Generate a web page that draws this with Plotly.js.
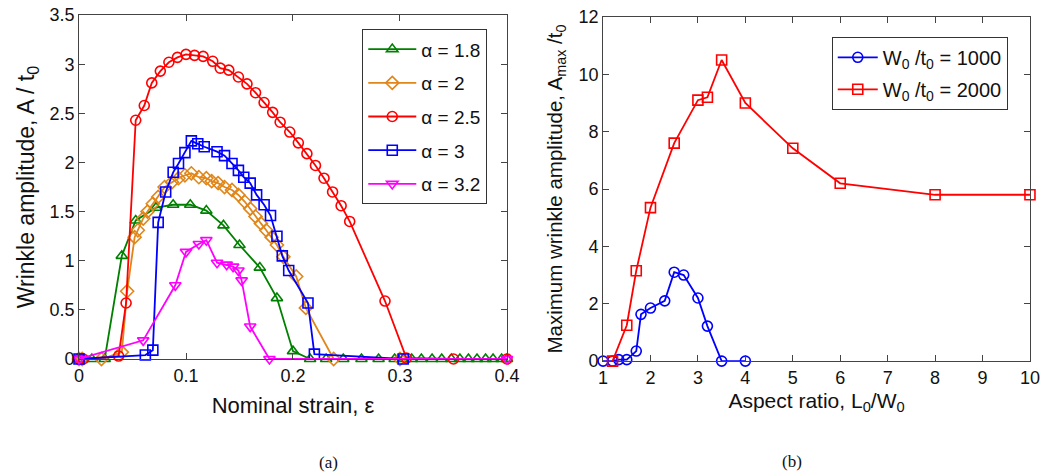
<!DOCTYPE html>
<html>
<head>
<meta charset="utf-8">
<script src="https://cdn.plot.ly/plotly-3.0.1.min.js"></script>
<style>
html,body{margin:0;padding:0;background:#fff;}
#chart{width:1041px;height:472px;}
</style>
</head>
<body>
<div id="chart"></div>
<script>
// ---- Panel (a): wrinkle amplitude vs nominal strain ----
const a18_x = [0, 0.004, 0.012, 0.024, 0.040, 0.053, 0.072, 0.088, 0.104, 0.119, 0.135, 0.150, 0.169, 0.185, 0.200, 0.216, 0.231, 0.247, 0.264, 0.280, 0.295, 0.303, 0.311, 0.320, 0.330, 0.339, 0.348, 0.356, 0.364, 0.372, 0.380, 0.387, 0.395, 0.400];
const a18_y = [0, 0, 0, 0, 1.05, 1.41, 1.54, 1.57, 1.57, 1.51, 1.36, 1.16, 0.93, 0.62, 0.08, 0, 0, 0, 0, 0, 0, 0, 0, 0, 0, 0, 0, 0, 0, 0, 0, 0, 0, 0];

const a20_x = [0, 0.003, 0.021, 0.040, 0.045, 0.052, 0.055, 0.060, 0.064, 0.069, 0.074, 0.080, 0.087, 0.093, 0.099, 0.105, 0.112, 0.119, 0.124, 0.130, 0.136, 0.143, 0.149, 0.155, 0.160, 0.165, 0.170, 0.175, 0.180, 0.185, 0.191, 0.203, 0.212, 0.238, 0.300];
const a20_y = [0, 0, 0, 0.07, 0.69, 1.24, 1.31, 1.43, 1.50, 1.58, 1.65, 1.75, 1.80, 1.84, 1.87, 1.89, 1.85, 1.84, 1.81, 1.79, 1.75, 1.72, 1.67, 1.60, 1.53, 1.45, 1.38, 1.31, 1.24, 1.16, 1.04, 0.84, 0.52, 0, 0];

const a25_x = [0, 0.004, 0.037, 0.044, 0.053, 0.061, 0.068, 0.076, 0.084, 0.092, 0.100, 0.108, 0.116, 0.125, 0.132, 0.140, 0.149, 0.157, 0.165, 0.173, 0.181, 0.188, 0.197, 0.205, 0.213, 0.221, 0.229, 0.237, 0.245, 0.253, 0.286, 0.306, 0.350, 0.400];
const a25_y = [0, 0, 0.03, 0.57, 2.43, 2.58, 2.81, 2.93, 3.02, 3.07, 3.10, 3.09, 3.08, 3.03, 2.96, 2.94, 2.87, 2.80, 2.71, 2.61, 2.51, 2.41, 2.31, 2.20, 2.09, 1.97, 1.84, 1.70, 1.56, 1.40, 0.59, 0.01, 0, 0];

const a30_x = [0, 0.062, 0.069, 0.074, 0.081, 0.088, 0.093, 0.099, 0.105, 0.111, 0.117, 0.129, 0.136, 0.143, 0.149, 0.154, 0.160, 0.166, 0.173, 0.179, 0.185, 0.190, 0.196, 0.214, 0.220, 0.303];
const a30_y = [0, 0.04, 0.09, 1.39, 1.70, 1.90, 1.99, 2.10, 2.22, 2.19, 2.16, 2.11, 2.07, 1.99, 1.92, 1.85, 1.79, 1.67, 1.57, 1.46, 1.25, 1.05, 0.90, 0.57, 0.05, 0];

const a32_x = [0, 0.060, 0.090, 0.100, 0.112, 0.119, 0.129, 0.138, 0.144, 0.149, 0.152, 0.160, 0.178, 0.400];
const a32_y = [0, 0.19, 0.75, 1.09, 1.17, 1.21, 0.98, 0.96, 0.94, 0.90, 0.80, 0.33, 0, 0];

const seriesA = ["α = 1.8", "α = 2", "α = 2.5", "α = 3", "α = 3.2"];

// ---- Panel (b): max wrinkle amplitude vs aspect ratio ----
const w1000_x = [1, 1.2, 1.33, 1.5, 1.7, 1.8, 2, 2.3, 2.5, 2.7, 3, 3.2, 3.5, 4];
const w1000_y = [0, 0, 0.05, 0.05, 0.35, 1.63, 1.85, 2.1, 3.1, 3.0, 2.2, 1.22, 0, 0];
const w2000_x = [1.2, 1.5, 1.7, 2, 2.5, 3, 3.2, 3.5, 4, 5, 6, 8, 10];
const w2000_y = [0, 1.25, 3.15, 5.35, 7.6, 9.1, 9.2, 10.5, 9.0, 7.42, 6.2, 5.8, 5.8];
const seriesB = ["W<sub>0</sub> /t<sub>0</sub> = 1000", "W<sub>0</sub> /t<sub>0</sub> = 2000"];

const ticksAx = [0, 0.1, 0.2, 0.3, 0.4];
const ticksAy = [0, 0.5, 1, 1.5, 2, 2.5, 3, 3.5];
const ticksBx = [1, 2, 3, 4, 5, 6, 7, 8, 9, 10];
const ticksBy = [0, 2, 4, 6, 8, 10, 12];

const FONT = "Liberation Sans, Arial, sans-serif";

function tr(x, y, name, color, symbol, xa, ya, leg, group) {
  return {
    x: x, y: y, name: name, type: "scatter", mode: "lines+markers",
    xaxis: xa, yaxis: ya, legend: leg, legendgroup: group,
    cliponaxis: false,
    line: {color: color, width: 1.8},
    marker: {symbol: symbol, size: 10, color: color, line: {color: color, width: 1.6}}
  };
}

const data = [
  tr(a18_x, a18_y, seriesA[0], "#008000", "triangle-up-open", "x", "y", "legend", "g1"),
  tr(a20_x, a20_y, seriesA[1], "#e0861a", "diamond-open", "x", "y", "legend", "g2"),
  tr(a25_x, a25_y, seriesA[2], "#ff0000", "circle-open", "x", "y", "legend", "g3"),
  tr(a30_x, a30_y, seriesA[3], "#0000ff", "square-open", "x", "y", "legend", "g4"),
  tr(a32_x, a32_y, seriesA[4], "#ff00ff", "triangle-down-open", "x", "y", "legend", "g5"),
  tr(w1000_x, w1000_y, seriesB[0], "#0000ff", "circle-open", "x2", "y2", "legend2", "h1"),
  tr(w2000_x, w2000_y, seriesB[1], "#ff0000", "square-open", "x2", "y2", "legend2", "h2")
];

function axis(extra) {
  return Object.assign({
    showline: true, mirror: "ticks", linecolor: "#444", linewidth: 1,
    ticks: "inside", ticklen: 6, tickcolor: "#444", tickwidth: 1,
    showgrid: false, zeroline: false,
    tickfont: {family: FONT, size: 18, color: "#111"}
  }, extra);
}

const layout = {
  width: 1041, height: 472,
  margin: {l: 0, r: 0, t: 0, b: 0},
  paper_bgcolor: "#fff", plot_bgcolor: "#fff",
  font: {family: FONT, color: "#111"},
  showlegend: true,
  xaxis: axis({domain: [0.0759, 0.487], range: [0, 0.4], tickvals: ticksAx, ticktext: ticksAx.map(String), anchor: "y",
    title: {text: "Nominal strain, ε", font: {family: FONT, size: 22}, standoff: 12}}),
  yaxis: axis({domain: [0.2394, 0.968], range: [0, 3.5], tickvals: ticksAy, ticktext: ticksAy.map(String), anchor: "x",
    title: {text: "Wrinkle amplitude, A / t<sub>0</sub>", font: {family: FONT, size: 23}, standoff: 8}}),
  xaxis2: axis({domain: [0.5793, 0.9894], range: [1, 10], tickvals: ticksBx, ticktext: ticksBx.map(String), anchor: "y2",
    title: {text: "Aspect ratio, L<sub>0</sub>/W<sub>0</sub>", font: {family: FONT, size: 21}, standoff: 6}}),
  yaxis2: axis({domain: [0.235, 0.964], range: [0, 12], tickvals: ticksBy, ticktext: ticksBy.map(String), anchor: "x2",
    title: {text: "Maximum wrinkle amplitude, A<sub>max</sub> /t<sub>0</sub>", font: {family: FONT, size: 20.5}, standoff: 10}}),
  legend: {x: 0.348, y: 0.938, xanchor: "left", yanchor: "top", bgcolor: "#fff",
    bordercolor: "#333", borderwidth: 1, font: {family: FONT, size: 19}, tracegroupgap: 6, itemwidth: 48},
  legend2: {x: 0.799, y: 0.922, xanchor: "left", yanchor: "top", bgcolor: "#fff",
    bordercolor: "#333", borderwidth: 1, font: {family: FONT, size: 20}, tracegroupgap: 3, itemwidth: 40},
  annotations: [
    {text: "(a)", xref: "paper", yref: "paper", x: 328/1041, y: 1 - 462/472, xanchor: "center", yanchor: "middle",
     showarrow: false, font: {family: "Liberation Serif, DejaVu Serif, serif", size: 17, color: "#111"}},
    {text: "(b)", xref: "paper", yref: "paper", x: 792/1041, y: 1 - 461/472, xanchor: "center", yanchor: "middle",
     showarrow: false, font: {family: "Liberation Serif, DejaVu Serif, serif", size: 17, color: "#111"}}
  ]
};

Plotly.newPlot("chart", data, layout, {displayModeBar: false, staticPlot: true});
</script>
</body>
</html>
